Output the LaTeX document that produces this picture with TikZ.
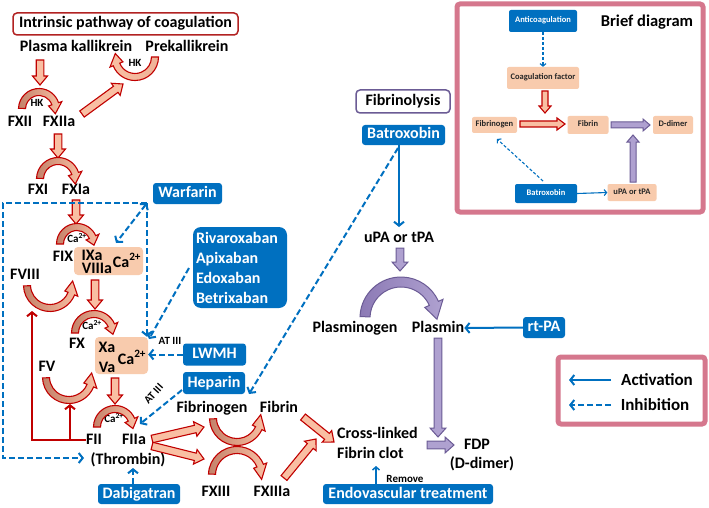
\documentclass[tikz,border=0pt]{standalone}
\usepackage{fontspec}
\setmainfont{Carlito}
\usetikzlibrary{calc,arrows.meta}
\definecolor{ablue}{HTML}{0070C0}
\definecolor{ared}{HTML}{C00000}
\definecolor{afill}{HTML}{F9BFA3}
\definecolor{afilldark}{HTML}{C4826A}
\definecolor{peach}{HTML}{F8CBAD}
\definecolor{pfill}{HTML}{AFA1D0}
\definecolor{pfilldark}{HTML}{8C7AB5}
\definecolor{pdraw}{HTML}{6B5B95}
\definecolor{pinkf}{HTML}{D5778D}
\definecolor{titlered}{HTML}{B22222}
% straight fat arrow: [style]{from}{to}{half shaft}{half head}{head length}
\newcommand\fatarr[6][]{%
  \coordinate (fah) at ($(#3)!#6!(#2)$);
  \draw[#1] ($(#2)!#4!90:(#3)$) -- ($(fah)!#4!90:(#3)$) -- ($(fah)!#5!90:(#3)$) -- (#3)
    -- ($(fah)!#5!-90:(#3)$) -- ($(fah)!#4!-90:(#3)$) -- ($(#2)!#4!-90:(#3)$) -- cycle;}
% curved fat arrow: [style]{center}{R}{start}{end}{tip angle}
\def\cvw{3.5}\def\cvh{7}
\newcommand\curvarr[6][]{%
  \pgfmathsetmacro\caRo{#3+\cvw}\pgfmathsetmacro\caRi{#3-\cvw}%
  \pgfmathsetmacro\caHo{#3+\cvh}\pgfmathsetmacro\caHi{#3-\cvh}%
  \draw[#1] ([shift={(#4:\caRo pt)}]#2) arc[start angle=#4,end angle=#5,radius=\caRo pt]
    -- ([shift={(#5:\caHo pt)}]#2) -- ([shift={(#6:#3 pt)}]#2) -- ([shift={(#5:\caHi pt)}]#2)
    -- ([shift={(#5:\caRi pt)}]#2) arc[start angle=#5,end angle=#4,radius=\caRi pt] -- cycle;}
\begin{document}
\begin{tikzpicture}[x=1pt,y=-1pt,
  lbl/.style={font=\bfseries\fontsize{16}{19}\selectfont, inner sep=0pt, text height=11pt, text depth=3pt},
  sml/.style={font=\bfseries\fontsize{11}{13}\selectfont, inner sep=0pt, text height=8pt, text depth=2pt},
  bbox/.style={fill=ablue, rounded corners=3pt, text=white, font=\bfseries\fontsize{16}{19}\selectfont, inner sep=0pt, text height=11pt, text depth=3pt},
  obox/.style={fill=peach, rounded corners=4pt, inner sep=0pt},
  bsm/.style={font=\bfseries\fontsize{8.5}{10}\selectfont, inner sep=0pt, text height=6pt, text depth=2pt},
  bblue/.style={bsm, fill=ablue, text=white, rounded corners=2pt},
  bpeach/.style={bsm, fill=peach, rounded corners=2pt, text=black!85},
  redarr/.style={draw=ared, line width=1.1pt, fill=afill, line join=miter},
  redcurv/.style={draw=ared, line width=1.1pt, left color=afilldark, right color=afill},
  redcurvr/.style={draw=ared, line width=1.1pt, left color=afill, right color=afill!80!afilldark},
  purarr/.style={draw=pdraw, line width=1pt, fill=pfill},
  purcurv/.style={draw=pdraw, line width=1pt, left color=pfilldark, right color=pfill},
  inh/.style={draw=ablue, line width=2pt, dash pattern=on 6pt off 3pt, -{Straight Barb[length=4pt,width=10pt]}},
  act/.style={draw=ablue, line width=2pt, -{Straight Barb[length=4pt,width=10pt]}},
  binh/.style={draw=ablue, line width=1.1pt, dash pattern=on 3pt off 2pt, -{Straight Barb[length=2.5pt,width=6pt]}},
  bact/.style={draw=ablue, line width=1.1pt, -{Straight Barb[length=2.5pt,width=6pt]}},
  pinkframe/.style={draw=pinkf, line width=5pt, rounded corners=3pt},
]
\fill[white] (0,0) rectangle (709,508);
\useasboundingbox (0,0) rectangle (709,508);

% ---------- intrinsic pathway ----------
\node[lbl, draw=titlered, line width=1.5pt, rounded corners=4pt, minimum width=225pt, minimum height=22pt] (title) at (125.5,24) {Intrinsic pathway of coagulation};
\node[lbl] (pk) at (76,48) {Plasma kallikrein};
\node[lbl] (prek) at (187,48) {Prekallikrein};
\node[sml] (hk1) at (135,64) {HK};
\node[lbl] (f12) at (20,123) {FXII};
\node[lbl] (f12a) at (59,123) {FXIIa};
\node[sml] (hk2) at (37,104) {HK};
\node[lbl] (f11) at (38,190) {FXI};
\node[lbl] (f11a) at (76,190) {FXIa};

\node[bbox, minimum width=69pt, minimum height=21pt] (warf) at (187.5,193.5) {Warfarin};

\node[obox, minimum width=69pt, minimum height=28pt] (ixbox) at (108.5,261) {};
\node[lbl] (ixa) at (92,256) {IXa};
\node[lbl] (viiia) at (97,269) {VIIIa};
\node[lbl] (ca1) at (127,263) {Ca\textsuperscript{2+}};
\node[lbl] (f9) at (63,257) {FIX};
\node[sml] (ca9) at (77,239) {Ca\textsuperscript{2+}};
\node[lbl] (f8) at (25,275) {FVIII};

\node[obox, minimum width=53pt, minimum height=37pt] (xbox) at (121.5,355.5) {};
\node[lbl] (xa) at (107,348) {Xa};
\node[lbl] (va) at (107,368) {Va};
\node[lbl] (ca2) at (132,360) {Ca\textsuperscript{2+}};
\node[lbl] (f10) at (77,344) {FX};
\node[sml] (ca10) at (92,326) {Ca\textsuperscript{2+}};
\node[lbl] (f5) at (47,367) {FV};

\node[lbl] (f2) at (94,440) {FII};
\node[lbl] (f2a) at (134,440) {FIIa};
\node[lbl] (thr) at (128,460) {(Thrombin)};
\node[sml] (ca3) at (114,419) {Ca\textsuperscript{2+}};

\node[bbox, minimum width=94pt, minimum height=81pt, rounded corners=8pt, text width=88pt, align=left, font=\bfseries\fontsize{16}{20}\selectfont, text height=, text depth=] (riva) at (240,267.5) {Rivaroxaban\\Apixaban\\Edoxaban\\Betrixaban};
\node[bbox, minimum width=63pt, minimum height=22pt] (lwmh) at (214.5,354.5) {LWMH};
\node[sml] (at1) at (170,341) {AT III};
\node[bbox, minimum width=62pt, minimum height=22pt] (hep) at (214,383) {Heparin};
\node[sml, rotate=48] (at2) at (154,394) {AT III};
\node[bbox, minimum width=82pt, minimum height=20pt] (dabi) at (139,494) {Dabigatran};

\node[lbl] (fbg) at (212,408) {Fibrinogen};
\node[lbl] (fbn) at (279,408) {Fibrin};
\node[lbl] (f13) at (216,492) {FXIII};
\node[lbl] (f13a) at (272,492) {FXIIIa};
\node[lbl, anchor=west] (cl1) at (337,434) {Cross-linked};
\node[lbl, anchor=west] (cl2) at (337,454) {Fibrin clot};

% ---------- fibrinolysis ----------
\node[lbl, draw=pdraw, line width=1.5pt, rounded corners=4pt, minimum width=94pt, minimum height=23pt] (fibrin) at (403,101.5) {Fibrinolysis};
\node[bbox, minimum width=83pt, minimum height=20pt] (batr) at (403.5,135) {Batroxobin};
\node[lbl] (upa) at (399,238) {uPA or tPA};
\node[lbl] (plg) at (355,328) {Plasminogen};
\node[lbl] (pls) at (438,328) {Plasmin};
\node[bbox, minimum width=42pt, minimum height=21pt] (rtpa) at (544,327.5) {rt-PA};
\node[lbl] (fdp) at (477,445) {FDP};
\node[lbl] (ddim) at (482,464) {(D-dimer)};
\node[bbox, minimum width=170pt, minimum height=20pt] (endo) at (408,494) {Endovascular treatment};
\node[sml] (rem) at (405,479) {Remove};

% ---------- red straight arrows ----------
\coordinate (a1s) at (40,60); \coordinate (a1e) at (40,85);
\coordinate (a2s) at (82,114); \coordinate (a2e) at (123,84);
\coordinate (a3s) at (58,134); \coordinate (a3e) at (58,158);
\coordinate (a4s) at (76,200); \coordinate (a4e) at (76,224);
\coordinate (a5s) at (95,280); \coordinate (a5e) at (95,309);
\coordinate (a6s) at (115,378); \coordinate (a6e) at (115,404);
\coordinate (a7s) at (152,439); \coordinate (a7e) at (204,427);
\coordinate (a8s) at (152,446); \coordinate (a8e) at (204,459);
\coordinate (a9s) at (284,478); \coordinate (a9e) at (316,439);
\coordinate (a10s) at (303,417); \coordinate (a10e) at (334,442);
\foreach \a in {1,...,10}{\fatarr[redarr]{a\a s}{a\a e}{3.8pt}{7.5pt}{9pt}}

% ---------- red curved arrows ----------
\coordinate (c12) at (39,109);
\coordinate (cpk) at (135,57);
\coordinate (c11) at (58,179);
\coordinate (c9) at (77,244);
\coordinate (c8) at (50,285);
\coordinate (c10) at (94,333);
\coordinate (c5) at (69,377);
\coordinate (c2) at (115,427);
\coordinate (cfg) at (237,418);
\coordinate (cf13) at (237,475);
\curvarr[redcurv]{c12}{17}{178}{18}{-16}
\curvarr[redcurvr]{cpk}{20}{0}{-158}{-190}
\curvarr[redcurv]{c11}{18}{178}{18}{-16}
\curvarr[redcurv]{c9}{17}{180}{24}{-4}
\curvarr[redcurv]{c8}{23}{182}{338}{370}
\curvarr[redcurv]{c10}{19}{180}{24}{-4}
\curvarr[redcurv]{c5}{23}{182}{338}{370}
\curvarr[redcurv]{c2}{18}{180}{24}{-5}
\curvarr[redcurv]{cfg}{24}{182}{335}{368}
\curvarr[redcurv]{cf13}{25}{178}{22}{-10}

% red activation lines to FVIII and FV
\coordinate (rl1) at (32,440);
\coordinate (rl2) at (70,440);
\coordinate (rt8) at (32,311);
\coordinate (rt5) at (70,404);
\draw[ared, line width=2pt, -{Straight Barb[length=4pt,width=10pt]}] (f2.west) -- (rl1) -- (rt8);
\draw[ared, line width=2pt, -{Straight Barb[length=4pt,width=10pt]}] (rl2) -- (rt5);

% ---------- purple arrows ----------
\coordinate (p1s) at (400,248); \coordinate (p1e) at (400,271);
\coordinate (p2s) at (438,338); \coordinate (p2e) at (438,437);
\coordinate (p3s) at (427,445); \coordinate (p3e) at (454,445);
\foreach \a in {1,2,3}{\fatarr[purarr]{p\a s}{p\a e}{3.8pt}{8pt}{9pt}}
\def\cvw{5}\def\cvh{10}
\coordinate (cpl) at (401,318);
\curvarr[purcurv]{cpl}{36}{178}{24}{-2}
\def\cvw{3.5}\def\cvh{7}

% ---------- blue inhibition / activation ----------
\coordinate (wc) at (147,203);
\coordinate (wl) at (3,203);
\coordinate (wb) at (3,458);
\coordinate (thrin) at (84,458);
\coordinate (ixin) at (116,243);
\draw[inh] (wc) -- (wl) -- (wb) -- (thrin);
\draw[inh] (wc) -- (wc |- xbox.north);
\draw[inh, {Straight Barb[length=4pt,width=10pt]}-{Straight Barb[length=4pt,width=10pt]}] (wc) -- (ixin);
\coordinate (rvs) at (189,268); \coordinate (rve) at (149,339);
\draw[inh] (rvs) -- (rve);
\draw[inh] (lwmh.west) -- (xbox.east |- lwmh.west);
\coordinate (hps) at (182,390); \coordinate (hpe) at (140,424);
\draw[inh] (hps) -- (hpe);
\draw[inh] (dabi.north -| 133,0) -- (133,468);
\coordinate (bts) at (398,148); \coordinate (bte) at (249,394);
\draw[inh] (bts) -- (bte);
\draw[act] (batr.south -| 399,0) -- (399,227);
\draw[act] (rtpa.west) -- (pls.east);
\draw[draw=ablue, line width=1.5pt, -{Straight Barb[length=3pt,width=7pt]}] (endo.north -| 376,0) -- (376,466);

% ---------- brief diagram ----------
\draw[pinkframe] (457,4) rectangle (703,212);
\node[font=\bfseries\fontsize{16.5}{19}\selectfont, inner sep=0pt] (brief) at (647,22) {Brief diagram};
\node[bblue, minimum width=68pt, minimum height=22pt] (banti) at (543,21) {Anticoagulation};
\node[bpeach, minimum width=72pt, minimum height=22pt] (bcoag) at (543,78) {Coagulation factor};
\node[bpeach, minimum width=45pt, minimum height=16pt] (bfbg) at (494.5,125) {Fibrinogen};
\node[bpeach, minimum width=41pt, minimum height=18pt] (bfbn) at (588,125) {Fibrin};
\node[bpeach, minimum width=40pt, minimum height=18pt] (bdd) at (673,125) {D-dimer};
\node[bblue, minimum width=62pt, minimum height=19pt] (bbat) at (546,193.5) {Batroxobin};
\node[bpeach, minimum width=49pt, minimum height=17pt] (bupa) at (632,192.5) {uPA or tPA};
\draw[binh] (banti.south) -- (bcoag.north);
\coordinate (ba1s) at (545,91); \coordinate (ba1e) at (545,113);
\coordinate (ba2s) at (520,124); \coordinate (ba2e) at (565,124);
\fatarr[redarr]{ba1s}{ba1e}{3pt}{6pt}{7pt}
\fatarr[redarr]{ba2s}{ba2e}{3pt}{6pt}{8pt}
\coordinate (bp1s) at (611,125); \coordinate (bp1e) at (650,125);
\coordinate (bp2s) at (633,182); \coordinate (bp2e) at (633,135);
\fatarr[purarr]{bp1s}{bp1e}{3pt}{6pt}{7pt}
\fatarr[purarr]{bp2s}{bp2e}{3pt}{6pt}{7pt}
\draw[bact] (bbat.east) -- (bupa.west);
\coordinate (bds) at (543,181); \coordinate (bde) at (497,139);
\draw[binh] (bds) -- (bde);

% ---------- legend ----------
\draw[pinkframe] (558,357) rectangle (705,424);
\coordinate (la1) at (611,380); \coordinate (la2) at (569,380);
\coordinate (li1) at (611,405); \coordinate (li2) at (569,405);
\draw[act] (la1) -- (la2);
\draw[inh] (li1) -- (li2);
\node[lbl, font=\bfseries\fontsize{17}{20}\selectfont] (lact) at (657,381) {Activation};
\node[lbl, font=\bfseries\fontsize{17}{20}\selectfont] (linh) at (655,406) {Inhibition};
\end{tikzpicture}
\end{document}
